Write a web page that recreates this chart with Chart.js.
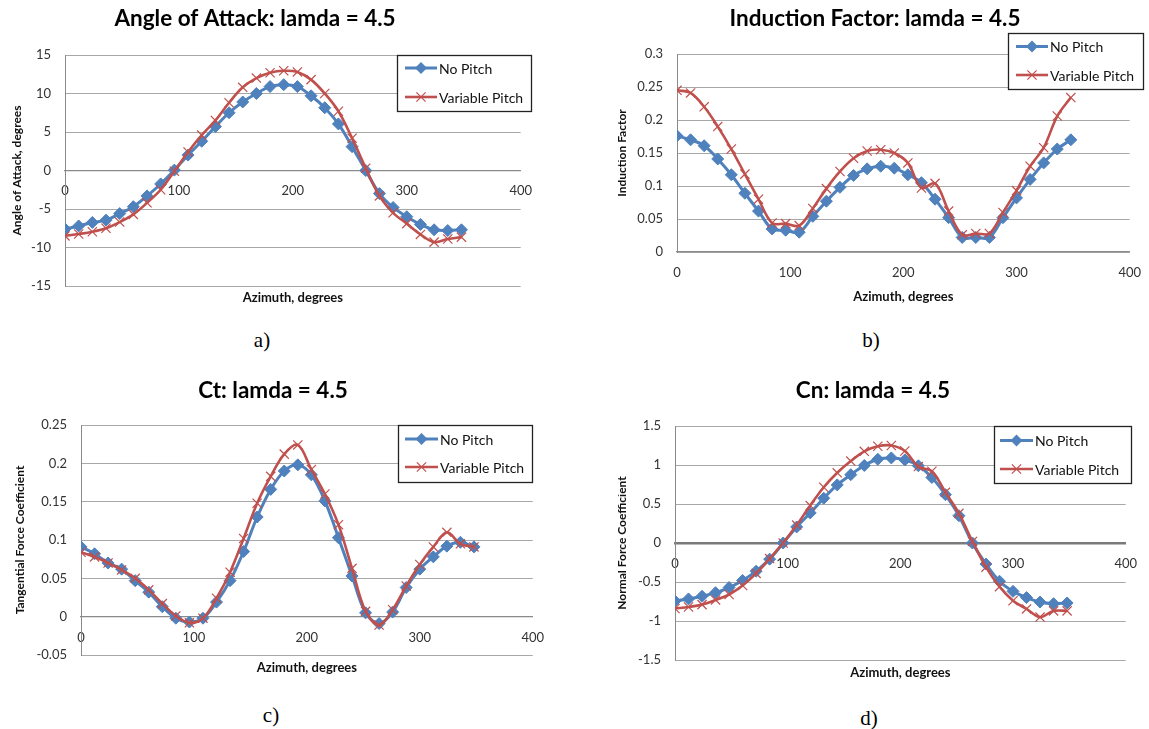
<!DOCTYPE html>
<html><head><meta charset="utf-8">
<script src="https://cdn.jsdelivr.net/npm/chart.js@4.4.1/dist/chart.umd.min.js"></script>
<style>
html,body{margin:0;padding:0;background:#fff;width:1149px;height:729px;overflow:hidden;position:relative;font-family:Lato,sans-serif;}
.wrap{position:absolute;}
.wrap canvas{display:block;}
.lbl{position:absolute;font-family:'Liberation Serif',serif;font-size:21px;color:#000;transform:translate(-50%,-50%);white-space:nowrap;}
</style></head><body>
<div class="wrap" id="wa"><canvas id="ca"></canvas></div>
<div class="wrap" id="wb"><canvas id="cb"></canvas></div>
<div class="wrap" id="wc"><canvas id="cc"></canvas></div>
<div class="wrap" id="wd"><canvas id="cd"></canvas></div>
<div class="lbl" style="left:262px;top:340px">a)</div>
<div class="lbl" style="left:871px;top:340px">b)</div>
<div class="lbl" style="left:271px;top:715px">c)</div>
<div class="lbl" style="left:869px;top:718px">d)</div>
<script>
// ---------------- data ----------------
const seriesNames = ['No Pitch', 'Variable Pitch'];
const azimuthDeg = [0, 12, 24, 36, 48, 60, 72, 84, 96, 108, 120, 132, 144, 156, 168,
  180, 192, 204, 216, 228, 240, 252, 264, 276, 288, 300, 312, 324, 336, 348];

const aoaNoPitch  = [-7.6, -7.2, -6.75, -6.45, -5.6, -4.7, -3.3, -1.75, 0.05, 2.0, 3.8, 5.7, 7.5, 8.9, 10.0,
  10.9, 11.15, 10.9, 9.7, 8.15, 6.05, 3.1, 0.0, -3.0, -4.8, -6.0, -7.0, -7.7, -7.8, -7.7];
const aoaVarPitch = [-8.5, -8.25, -7.95, -7.5, -6.7, -5.7, -4.2, -2.5, -0.1, 2.4, 4.6, 6.5, 8.8, 10.8, 12.0,
  12.7, 12.95, 12.8, 11.8, 10.0, 7.7, 4.2, 0.3, -3.3, -5.5, -6.9, -8.3, -9.3, -8.9, -8.65];

const indNoPitch  = [0.176, 0.170, 0.161, 0.141, 0.117, 0.089, 0.062, 0.035, 0.033, 0.030, 0.054, 0.077, 0.098, 0.116, 0.126,
  0.130, 0.127, 0.117, 0.105, 0.080, 0.052, 0.022, 0.022, 0.022, 0.052, 0.082, 0.110, 0.135, 0.156, 0.170];
const indVarPitch = [0.245, 0.241, 0.220, 0.190, 0.156, 0.118, 0.080, 0.044, 0.043, 0.040, 0.066, 0.096, 0.122, 0.142, 0.153,
  0.155, 0.150, 0.135, 0.097, 0.104, 0.062, 0.026, 0.028, 0.028, 0.060, 0.093, 0.130, 0.158, 0.206, 0.234];

const ctNoPitch  = [0.091, 0.082, 0.070, 0.062, 0.047, 0.032, 0.013, -0.002, -0.007, -0.002, 0.019, 0.047, 0.085, 0.130, 0.166,
  0.190, 0.198, 0.185, 0.151, 0.103, 0.053, 0.005, -0.009, 0.006, 0.038, 0.062, 0.078, 0.092, 0.097, 0.091];
const ctVarPitch = [0.084, 0.078, 0.070, 0.061, 0.050, 0.035, 0.017, 0.001, -0.008, -0.002, 0.024, 0.058, 0.102, 0.148, 0.183,
  0.212, 0.224, 0.192, 0.160, 0.120, 0.063, 0.007, -0.011, 0.009, 0.040, 0.068, 0.091, 0.110, 0.095, 0.091];

const cnNoPitch  = [-0.744, -0.717, -0.683, -0.637, -0.571, -0.481, -0.361, -0.207, 0.0, 0.206, 0.386, 0.574, 0.745, 0.876, 0.994,
  1.073, 1.091, 1.065, 0.99, 0.84, 0.62, 0.35, 0.0, -0.27, -0.49, -0.62, -0.70, -0.757, -0.778, -0.769];
const cnVarPitch = [-0.84, -0.82, -0.79, -0.73, -0.66, -0.545, -0.39, -0.20, 0.0, 0.23, 0.48, 0.715, 0.90, 1.05, 1.175,
  1.24, 1.25, 1.18, 0.98, 0.92, 0.65, 0.38, 0.02, -0.31, -0.56, -0.74, -0.845, -0.95, -0.87, -0.87];

const xAxisRange = [0, 400, 100];
const aoaYRange = [-15, 15, 5];
const indYRange = [0, 0.3, 0.05];
const ctYRange  = [-0.05, 0.25, 0.05];
const cnYRange  = [-1.5, 1.5, 0.5];
const xTitle = 'Azimuth, degrees';

// ---------------- drawing ----------------
Chart.defaults.font.family = 'Lato';
const BLUE = '#4f81bd', RED = '#c0504d';
const fmt = v => String(+Number(v).toFixed(4));

const boxLegend = {
  id: 'boxLegend',
  afterDraw(chart, args, o) {
    const ctx = chart.ctx;
    ctx.save();
    ctx.fillStyle = '#fff';
    ctx.fillRect(o.x, o.y, o.w, o.h);
    ctx.strokeStyle = '#222';
    ctx.lineWidth = 1.3;
    ctx.strokeRect(o.x + 0.5, o.y + 0.5, o.w, o.h);
    chart.data.datasets.forEach((ds, i) => {
      const cy = o.rows[i];
      ctx.strokeStyle = ds.borderColor;
      ctx.lineWidth = ds.borderWidth;
      ctx.beginPath(); ctx.moveTo(o.lx0, cy); ctx.lineTo(o.lx1, cy); ctx.stroke();
      const mx = (o.lx0 + o.lx1) / 2, r = ds.pointRadius;
      ctx.beginPath();
      if (ds.pointStyle === 'rectRot') {
        ctx.fillStyle = ds.pointBackgroundColor;
        ctx.moveTo(mx, cy - r); ctx.lineTo(mx + r, cy); ctx.lineTo(mx, cy + r); ctx.lineTo(mx - r, cy); ctx.closePath();
        ctx.fill();
      } else {
        const d = r * Math.SQRT1_2;
        ctx.strokeStyle = ds.pointBorderColor; ctx.lineWidth = ds.pointBorderWidth;
        ctx.moveTo(mx - d, cy - d); ctx.lineTo(mx + d, cy + d);
        ctx.moveTo(mx + d, cy - d); ctx.lineTo(mx - d, cy + d);
        ctx.stroke();
      }
      ctx.fillStyle = '#111';
      ctx.font = '14px Lato';
      ctx.textAlign = 'left';
      ctx.textBaseline = 'middle';
      ctx.fillText(ds.label, o.tx, cy + 1);
    });
    ctx.restore();
  }
};

function makeChart(wrapId, canvasId, g, title, yTitle, yRange, noPitch, varPitch) {
  const canvasLeft = Math.round(2 * g.titleCX - g.plotRight);
  const W = Math.round(g.plotRight - canvasLeft + 22);
  const R = W - (g.plotRight - canvasLeft);
  const canvasTop = Math.round(g.titleCY - 4 - 13.2);
  const titlePadBottom = g.plotTop - canvasTop - 4 - 26.4;
  const subPadTop = g.xTitleCY - g.plotBottom - 7.8;
  const subH = 15.6 + subPadTop + 2;
  const H = Math.ceil(g.plotBottom - canvasTop + subH + 4);
  const padBottom = H - (g.plotBottom - canvasTop) - subH;
  const wrap = document.getElementById(wrapId);
  wrap.style.left = canvasLeft + 'px';
  wrap.style.top = canvasTop + 'px';
  const cv = document.getElementById(canvasId);
  cv.width = W; cv.height = H;
  cv.style.width = W + 'px'; cv.style.height = H + 'px';
  const L = g.legend;
  const pts = arr => azimuthDeg.map((a, i) => ({x: a, y: arr[i]}));
  return new Chart(cv, {
    type: 'line',
    data: {
      datasets: [
        {label: seriesNames[0], data: pts(noPitch), borderColor: BLUE, backgroundColor: BLUE, borderWidth: 3,
         pointStyle: 'rectRot', pointRadius: 6, pointBackgroundColor: BLUE, pointBorderColor: BLUE, pointBorderWidth: 1,
         tension: 0.35, order: 1},
        {label: seriesNames[1], data: pts(varPitch), borderColor: RED, backgroundColor: RED, borderWidth: 2.6,
         pointStyle: 'crossRot', pointRadius: 6.5, pointBackgroundColor: RED, pointBorderColor: RED, pointBorderWidth: 1.2,
         tension: 0.35, order: 0}
      ]
    },
    options: {
      responsive: false, animation: false, devicePixelRatio: 1,
      layout: {padding: {left: 0, top: 0, right: R, bottom: padBottom}},
      plugins: {
        legend: {display: false},
        tooltip: {enabled: false},
        title: {display: true, text: title, color: '#000',
                font: {family: 'Lato', size: 22.5, weight: 'bold', lineHeight: 1.2},
                padding: {top: 4, bottom: titlePadBottom - 0.6}},
        subtitle: {display: true, position: 'bottom', fullSize: false, text: xTitle, color: '#111',
                   font: {family: 'Lato', size: 13, weight: 'bold', lineHeight: 1.2},
                   padding: {top: subPadTop, bottom: 2}},
        boxLegend: {
          x: L.x0 - canvasLeft, y: L.y0 - canvasTop, w: L.x1 - L.x0, h: L.y1 - L.y0,
          rows: L.rows.map(v => v - canvasTop),
          lx0: L.lx0 - canvasLeft, lx1: L.lx1 - canvasLeft, tx: L.tx - canvasLeft
        }
      },
      scales: {
        x: {type: 'linear', min: xAxisRange[0], max: xAxisRange[1], position: {y: 0},
            ticks: {stepSize: xAxisRange[2], padding: 13, color: '#333', font: {family: 'Lato', size: 13}, callback: fmt},
            grid: {display: false, drawTicks: false},
            border: {display: true, color: g.zeroColor || '#8a8a8a', width: g.zeroWidth || 1.2}},
        y: {type: 'linear', min: yRange[0], max: yRange[1],
            ticks: {stepSize: yRange[2], padding: 14, color: '#333', font: {family: 'Lato', size: 13}, callback: fmt},
            grid: {color: '#a8a8a8', lineWidth: 1, drawTicks: false},
            border: {display: true, color: '#8a8a8a', width: 1},
            title: {display: true, text: yTitle, color: '#111',
                    font: {family: 'Lato', size: 12, weight: 'bold', lineHeight: 1.2},
                    padding: {top: g.yTitleX - canvasLeft - 7.2, bottom: 0}},
            afterFit: s => { s.width = g.plotLeft - canvasLeft; }}
      }
    },
    plugins: [boxLegend]
  });
}

makeChart('wa', 'ca', {
  titleCX: 255, titleCY: 18.3, plotLeft: 65, plotRight: 523, plotTop: 55, plotBottom: 286,
  xTitleCY: 298, yTitleX: 17,
  legend: {x0: 397, y0: 55, x1: 531, y1: 111, rows: [68, 97], lx0: 405, lx1: 437, tx: 439}
}, 'Angle of Attack: lamda = 4.5', 'Angle of Attack, degrees', aoaYRange, aoaNoPitch, aoaVarPitch);

makeChart('wb', 'cb', {
  titleCX: 875, titleCY: 18.3, plotLeft: 677, plotRight: 1132, plotTop: 54, plotBottom: 252,
  xTitleCY: 297, yTitleX: 622,
  legend: {x0: 1008, y0: 33, x1: 1143, y1: 89, rows: [46.5, 75], lx0: 1016, lx1: 1048, tx: 1050}
}, 'Induction Factor: lamda = 4.5', 'Induction Factor', indYRange, indNoPitch, indVarPitch);

makeChart('wc', 'cc', {
  titleCX: 273, titleCY: 390, plotLeft: 81, plotRight: 535, plotTop: 425, plotBottom: 655,
  xTitleCY: 668, yTitleX: 20,
  legend: {x0: 398, y0: 425, x1: 532, y1: 482, rows: [439, 467], lx0: 405, lx1: 438, tx: 440}
}, 'Ct: lamda = 4.5', 'Tangential Force Coefficient', ctYRange, ctNoPitch, ctVarPitch);

makeChart('wd', 'cd', {
  titleCX: 873, titleCY: 390, plotLeft: 675, plotRight: 1128, plotTop: 426, plotBottom: 660,
  xTitleCY: 673, yTitleX: 622, zeroColor: '#7a7a7a', zeroWidth: 2.5,
  legend: {x0: 994, y0: 426, x1: 1131, y1: 483, rows: [440.5, 469], lx0: 1000, lx1: 1033, tx: 1035}
}, 'Cn: lamda = 4.5', 'Normal Force Coefficient', cnYRange, cnNoPitch, cnVarPitch);
</script>
</body></html>
